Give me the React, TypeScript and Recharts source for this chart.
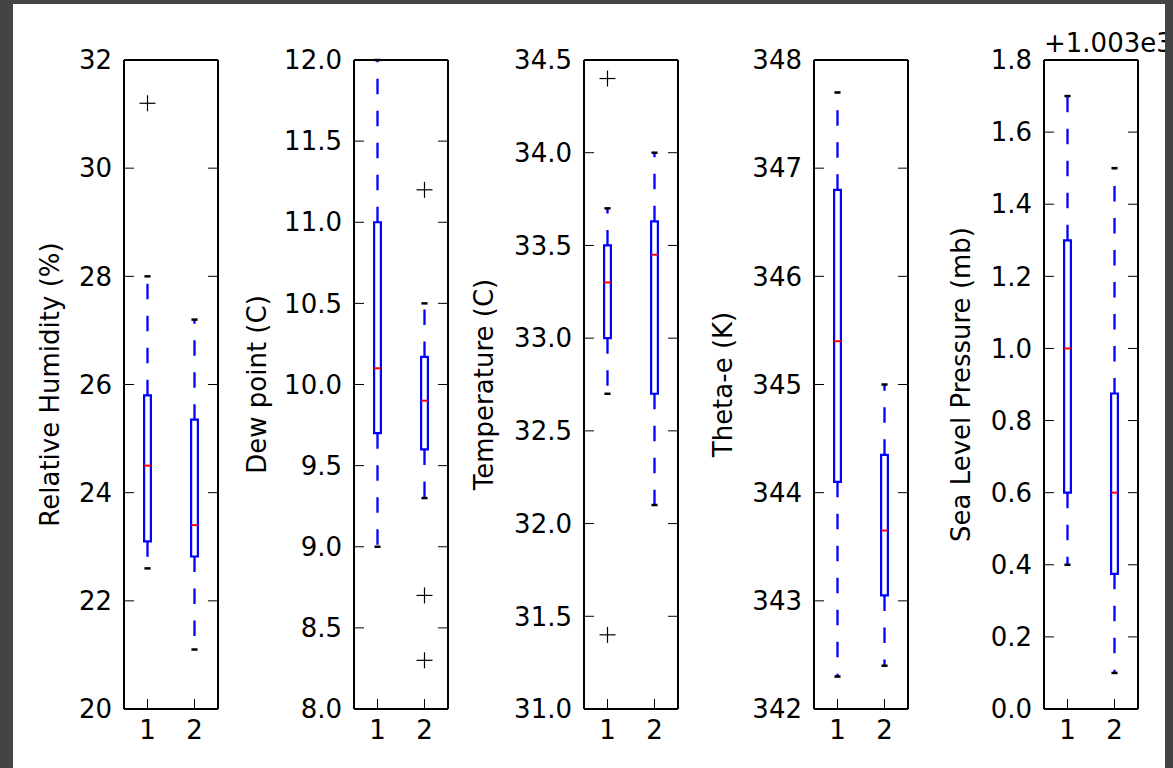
import React from 'react';
import { ComposedChart, XAxis, YAxis, ReferenceArea, ReferenceLine, Scatter } from 'recharts';

// categories on the x axis
const categories = [1, 2];

// box statistics per category: [lower whisker, Q1, median, Q3, upper whisker]
const humidityBoxes = [
  [22.6, 23.1, 24.5, 25.8, 28.0],
  [21.1, 22.82, 23.4, 25.35, 27.2],
];
const humidityOutliers = [{ x: 1, y: 31.2 }];
const humidityTicks = [20, 22, 24, 26, 28, 30, 32];

const dewBoxes = [
  [9.0, 9.7, 10.1, 11.0, 12.0],
  [9.3, 9.6, 9.9, 10.17, 10.5],
];
const dewOutliers = [
  { x: 2, y: 11.2 },
  { x: 2, y: 8.7 },
  { x: 2, y: 8.3 },
];
const dewTicks = [8.0, 8.5, 9.0, 9.5, 10.0, 10.5, 11.0, 11.5, 12.0];

const tempBoxes = [
  [32.7, 33.0, 33.3, 33.5, 33.7],
  [32.1, 32.7, 33.45, 33.63, 34.0],
];
const tempOutliers = [
  { x: 1, y: 34.4 },
  { x: 1, y: 31.4 },
];
const tempTicks = [31.0, 31.5, 32.0, 32.5, 33.0, 33.5, 34.0, 34.5];

const thetaBoxes = [
  [342.3, 344.1, 345.4, 346.8, 347.7],
  [342.4, 343.05, 343.65, 344.35, 345.0],
];
const thetaOutliers: { x: number; y: number }[] = [];
const thetaTicks = [342, 343, 344, 345, 346, 347, 348];

const pressureOffset = 1003;
const pressureBoxes = [
  [1003.4, 1003.6, 1004.0, 1004.3, 1004.7],
  [1003.1, 1003.375, 1003.6, 1003.875, 1004.5],
];
const pressureOutliers: { x: number; y: number }[] = [];
const pressureTicks = [1003.0, 1003.2, 1003.4, 1003.6, 1003.8, 1004.0, 1004.2, 1004.4, 1004.6, 1004.8];

const FONT = 'DejaVu Sans, Liberation Sans, sans-serif';
const PLOT_W = 94;
const CHART_H = 764;
const PLOT_TOP = 56;
const PLOT_BOTTOM = 705;
const BOX_HALF = 0.072;
const CAP_HALF = 0.065;
const BLUE = '#0000ff';
const RED = '#ff0000';

const PlusShape = (props: any) => {
  const { cx, cy } = props;
  if (cx == null || cy == null) return <g />;
  return (
    <g>
      <line x1={cx - 8} y1={cy} x2={cx + 8} y2={cy} stroke="#000" strokeWidth={1.2} />
      <line x1={cx} y1={cy - 8} x2={cx} y2={cy + 8} stroke="#000" strokeWidth={1.2} />
    </g>
  );
};

const EmptyTick = () => <g />;

type PanelProps = {
  plotLeft: number;
  labelOffset: number;
  label: string;
  ticks: number[];
  boxes: number[][];
  outliers: { x: number; y: number }[];
  format: (v: number) => string;
};

function BoxPanel({ plotLeft, labelOffset, label, ticks, boxes, outliers, format }: PanelProps) {
  const W = labelOffset * 2;
  const domain: [number, number] = [ticks[0], ticks[ticks.length - 1]];
  const tickStyle = { fill: '#000', fontSize: 26, fontFamily: FONT };
  const axisLine = { stroke: '#000', strokeWidth: 2 };
  const tickLine = { stroke: '#000', strokeWidth: 1 };
  return (
    <div style={{ position: 'absolute', left: plotLeft - W, top: 0 }}>
      <ComposedChart
        width={W + PLOT_W + 1}
        height={CHART_H}
        margin={{ top: PLOT_TOP - 1, right: 0, bottom: 0, left: 0 }}
      >
        <XAxis
          xAxisId={0}
          type="number"
          dataKey="x"
          domain={[0.5, 2.5]}
          ticks={categories}
          allowDataOverflow
          orientation="bottom"
          height={CHART_H - PLOT_BOTTOM}
          tickSize={-10}
          tickMargin={22}
          tick={tickStyle}
          axisLine={axisLine}
          tickLine={tickLine}
        />
        <XAxis
          xAxisId="top"
          type="number"
          domain={[0.5, 2.5]}
          ticks={categories}
          allowDataOverflow
          orientation="top"
          height={1}
          tickSize={-10}
          tick={EmptyTick}
          axisLine={axisLine}
          tickLine={tickLine}
        />
        <YAxis
          yAxisId={0}
          type="number"
          dataKey="y"
          domain={domain}
          ticks={ticks}
          allowDataOverflow
          width={W}
          tickSize={-10}
          tickMargin={22}
          tickFormatter={format}
          tick={tickStyle}
          axisLine={axisLine}
          tickLine={tickLine}
          label={{
            value: label,
            angle: -90,
            position: 'center',
            style: { fill: '#000', fontSize: 26, fontFamily: FONT },
          }}
        />
        <YAxis
          yAxisId="right"
          orientation="right"
          type="number"
          domain={domain}
          ticks={ticks}
          allowDataOverflow
          width={1}
          tickSize={-10}
          tick={EmptyTick}
          axisLine={axisLine}
          tickLine={tickLine}
        />
        {boxes.map((b, i) => {
          const c = categories[i];
          const [lo, q1, med, q3, hi] = b;
          return (
            <React.Fragment key={'w' + i}>
              <ReferenceLine
                segment={[{ x: c, y: q3 }, { x: c, y: hi }]}
                stroke={BLUE}
                strokeWidth={2.3}
                strokeDasharray="15.5 16.5"
                ifOverflow="visible"
              />
              <ReferenceLine
                segment={[{ x: c, y: q1 }, { x: c, y: lo }]}
                stroke={BLUE}
                strokeWidth={2.3}
                strokeDasharray="15.5 16.5"
                ifOverflow="visible"
              />
              <ReferenceLine
                segment={[{ x: c - CAP_HALF, y: hi }, { x: c + CAP_HALF, y: hi }]}
                stroke="#000"
                strokeWidth={2.5}
                ifOverflow="visible"
              />
              <ReferenceLine
                segment={[{ x: c - CAP_HALF, y: lo }, { x: c + CAP_HALF, y: lo }]}
                stroke="#000"
                strokeWidth={2.5}
                ifOverflow="visible"
              />
            </React.Fragment>
          );
        })}
        {boxes.map((b, i) => {
          const c = categories[i];
          const [, q1, , q3] = b;
          return (
            <ReferenceArea
              key={'b' + i}
              x1={c - BOX_HALF}
              x2={c + BOX_HALF}
              y1={q1}
              y2={q3}
              stroke={BLUE}
              strokeWidth={2.2}
              fill="none"
              fillOpacity={0}
              ifOverflow="visible"
            />
          );
        })}
        {boxes.map((b, i) => {
          const c = categories[i];
          const med = b[2];
          return (
            <ReferenceLine
              key={'m' + i}
              segment={[{ x: c - BOX_HALF, y: med }, { x: c + BOX_HALF, y: med }]}
              stroke={RED}
              strokeWidth={2}
              ifOverflow="visible"
            />
          );
        })}
        <Scatter data={outliers} shape={PlusShape} isAnimationActive={false} />
      </ComposedChart>
    </div>
  );
}

const fmtInt = (v: number) => String(Math.round(v));
const fmt1 = (v: number) => v.toFixed(1);
const fmtPressure = (v: number) => (v - pressureOffset).toFixed(1);

export default function App() {
  return (
    <div
      style={{
        position: 'absolute',
        left: 0,
        top: 0,
        width: 1173,
        height: 768,
        background: '#444444',
      }}
    >
      <div
        style={{
          position: 'absolute',
          left: 13,
          top: 4,
          width: 1152,
          height: 764,
          background: '#ffffff',
          overflow: 'hidden',
        }}
      >
        <BoxPanel plotLeft={111} labelOffset={74} label="Relative Humidity (%)" ticks={humidityTicks} boxes={humidityBoxes} outliers={humidityOutliers} format={fmtInt} />
        <BoxPanel plotLeft={341} labelOffset={97} label="Dew point (C)" ticks={dewTicks} boxes={dewBoxes} outliers={dewOutliers} format={fmt1} />
        <BoxPanel plotLeft={571} labelOffset={100} label="Temperature (C)" ticks={tempTicks} boxes={tempBoxes} outliers={tempOutliers} format={fmt1} />
        <BoxPanel plotLeft={801} labelOffset={91} label="Theta-e (K)" ticks={thetaTicks} boxes={thetaBoxes} outliers={thetaOutliers} format={fmtInt} />
        <BoxPanel plotLeft={1031} labelOffset={83} label="Sea Level Pressure (mb)" ticks={pressureTicks} boxes={pressureBoxes} outliers={pressureOutliers} format={fmtPressure} />
        <svg
          style={{ position: 'absolute', left: 0, top: 0, pointerEvents: 'none' }}
          width={1152}
          height={764}
        >
          <text x={1031} y={48} fontSize={26} fontFamily={FONT} fill="#000">
            +1.003e3
          </text>
        </svg>
      </div>
    </div>
  );
}
